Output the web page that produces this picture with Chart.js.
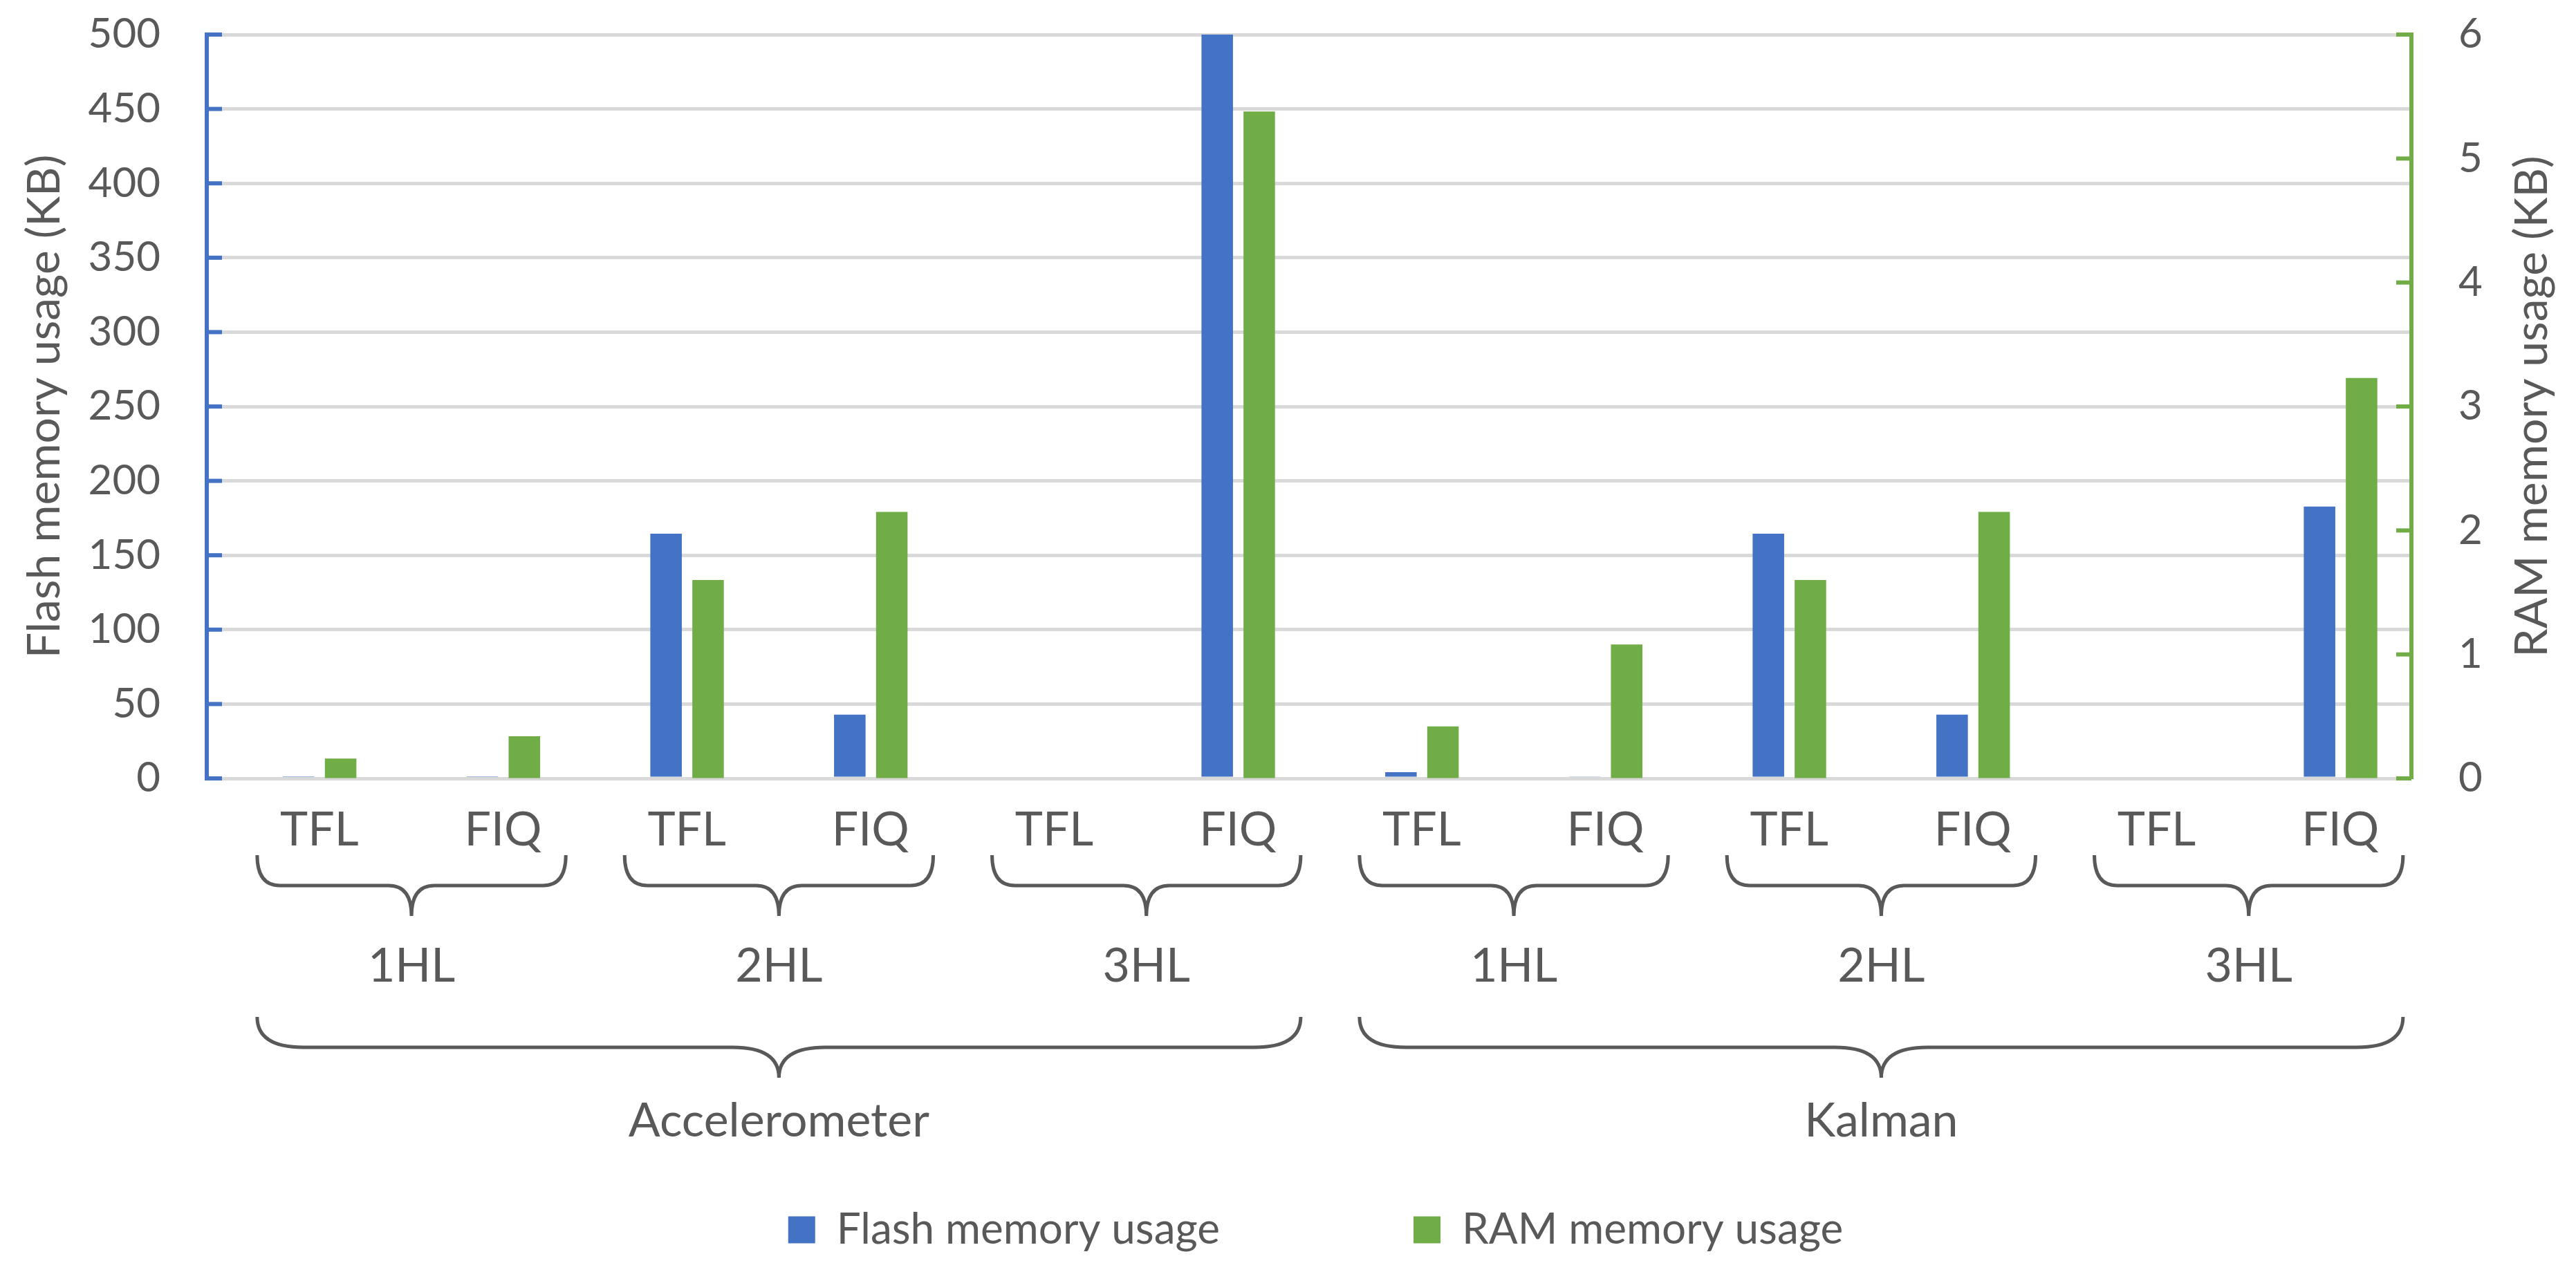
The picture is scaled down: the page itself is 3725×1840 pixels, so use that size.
<!DOCTYPE html>
<html>
<head>
<meta charset="utf-8">
<title>Flash and RAM memory usage</title>
<script src="https://cdn.jsdelivr.net/npm/chart.js@4.4.1/dist/chart.umd.min.js"></script>
<style>
  html, body { margin: 0; padding: 0; background: #fff; }
  #wrap { width: 3725px; height: 1840px; }
</style>
</head>
<body>
<div id="wrap"><canvas id="chart"></canvas></div>
<script>
// categories, three levels
const tickLabels = ['TFL', 'FIQ', 'TFL', 'FIQ', 'TFL', 'FIQ', 'TFL', 'FIQ', 'TFL', 'FIQ', 'TFL', 'FIQ'];
const layerLabels = ['1HL', '2HL', '3HL', '1HL', '2HL', '3HL'];
const filterLabels = ['Accelerometer', 'Kalman'];

// values (KB)
const flashKB = [1.4, 0.9, 164.5, 42.9, null, 500, 4.2, 1.3, 164.5, 42.9, null, 182.7];
const ramKB = [0.16, 0.34, 1.6, 2.15, null, 5.38, 0.42, 1.08, 1.6, 2.15, null, 3.23];
// empty slot so the blue bar sits on the category centre like in the excel chart
const spacer = [null, null, null, null, null, null, null, null, null, null, null, null];

const BLUE = '#4472C4';
const GREEN = '#70AD47';
const TEXT = '#595959';
const GRID = '#D9D9D9';
const FONT = 'Lato';

function brace(ctx, x0, x1, yTop, h, curl) {
    const xm = (x0 + x1) / 2;
    const yMid = yTop + h / 2;
    const yTip = yTop + h;
    ctx.beginPath();
    ctx.moveTo(x0, yTop);
    ctx.quadraticCurveTo(x0, yMid, x0 + curl, yMid);
    ctx.lineTo(xm - curl, yMid);
    ctx.quadraticCurveTo(xm, yMid, xm, yTip);
    ctx.moveTo(x1, yTop);
    ctx.quadraticCurveTo(x1, yMid, x1 - curl, yMid);
    ctx.lineTo(xm + curl, yMid);
    ctx.quadraticCurveTo(xm, yMid, xm, yTip);
    ctx.stroke();
}

const extras = {
    id: 'extras',
    afterDraw(chart) {
        const ctx = chart.ctx;
        const area = chart.chartArea;
        const x = chart.scales.x;
        const yL = chart.scales.yFlash;
        const yR = chart.scales.yRam;
        const flashMeta = chart.getDatasetMeta(1);
        const ramMeta = chart.getDatasetMeta(2);
        const catW = x.width / tickLabels.length;
        const pairX = i => (flashMeta.data[i].x + ramMeta.data[i].x) / 2;

        ctx.save();
        // tick marks pointing inside the plot
        ctx.lineWidth = 6;
        ctx.strokeStyle = BLUE;
        yL.ticks.forEach((t, i) => {
            const y = yL.getPixelForTick(i);
            ctx.beginPath(); ctx.moveTo(area.left, y); ctx.lineTo(area.left + 22, y); ctx.stroke();
        });
        ctx.strokeStyle = GREEN;
        yR.ticks.forEach((t, i) => {
            const y = yR.getPixelForTick(i);
            ctx.beginPath(); ctx.moveTo(area.right, y); ctx.lineTo(area.right - 22, y); ctx.stroke();
        });

        // axis titles, both read bottom to top
        const midY = (area.top + area.bottom) / 2;
        ctx.fillStyle = TEXT;
        ctx.font = '66px ' + FONT;
        ctx.textAlign = 'center';
        ctx.textBaseline = 'alphabetic';
        [[yL.left + 6, 'Flash memory usage (KB)'], [yR.right - 42, 'RAM memory usage (KB)']].forEach(([bx, txt]) => {
            ctx.save();
            ctx.translate(bx, midY);
            ctx.rotate(-Math.PI / 2);
            ctx.fillText(txt, 0, 0);
            ctx.restore();
        });

        // braces and the two outer label rows
        ctx.font = '68px ' + FONT;
        ctx.strokeStyle = TEXT;
        ctx.lineWidth = 5;
        const per = tickLabels.length / layerLabels.length;
        layerLabels.forEach((lab, g) => {
            const a = pairX(g * per) - 0.34 * catW;
            const b = pairX(g * per + per - 1) + 0.34 * catW;
            brace(ctx, a, b, x.top + 111, 88, 33);
            ctx.fillText(lab, (a + b) / 2, x.top + 294);
        });
        const perF = tickLabels.length / filterLabels.length;
        filterLabels.forEach((lab, g) => {
            const a = pairX(g * perF) - 0.34 * catW;
            const b = pairX(g * perF + perF - 1) + 0.34 * catW;
            brace(ctx, a, b, x.top + 345, 88, 67);
            ctx.fillText(lab, (a + b) / 2, x.top + 518);
        });
        ctx.restore();
    }
};

function draw() {
    Chart.defaults.font.family = FONT;
    Chart.defaults.color = TEXT;
    new Chart(document.getElementById('chart'), {
        type: 'bar',
        data: {
            labels: tickLabels,
            datasets: [{
                label: '',
                data: spacer,
                backgroundColor: 'rgba(0,0,0,0)',
                yAxisID: 'yFlash',
            }, {
                label: 'Flash memory usage',
                data: flashKB,
                backgroundColor: BLUE,
                yAxisID: 'yFlash',
            }, {
                label: 'RAM memory usage',
                data: ramKB,
                backgroundColor: GREEN,
                yAxisID: 'yRam',
            }]
        },
        options: {
            responsive: true,
            maintainAspectRatio: false,
            animation: false,
            devicePixelRatio: 1,
            categoryPercentage: 0.686,
            barPercentage: 0.75,
            layout: { padding: { left: 80, right: 0, top: 50, bottom: 20 } },
            plugins: {
                tooltip: { enabled: false },
                legend: {
                    position: 'bottom',
                    labels: {
                        filter: item => item.text !== '',
                        boxWidth: 39,
                        boxHeight: 39,
                        padding: 280,
                        color: TEXT,
                        font: { size: 62 }
                    }
                }
            },
            scales: {
                x: {
                    grid: { display: false },
                    border: { display: false },
                    ticks: { font: { size: 68 }, color: TEXT, padding: 26, labelOffset: 30, maxRotation: 0 },
                    afterFit: s => { s.height = 342; }
                },
                yFlash: {
                    position: 'left',
                    min: 0,
                    max: 500,
                    ticks: { stepSize: 50, font: { size: 60 }, color: TEXT, padding: 0 },
                    // outer tick marks hidden, they only push the labels away; inner ones are drawn by the plugin
                    grid: { color: GRID, lineWidth: 5, tickLength: 67, tickColor: 'rgba(0,0,0,0)' },
                    border: { color: BLUE, width: 6 },
                    afterFit: s => { s.width = 219; }
                },
                yRam: {
                    position: 'right',
                    min: 0,
                    max: 6,
                    ticks: { stepSize: 1, font: { size: 60 }, color: TEXT, padding: 0 },
                    grid: { drawOnChartArea: false, tickLength: 68, tickColor: 'rgba(0,0,0,0)' },
                    border: { color: GREEN, width: 6 },
                    afterFit: s => { s.width = 238; }
                }
            }
        },
        plugins: [extras]
    });
}

document.fonts.load('60px ' + FONT).then(draw, draw);
</script>
</body>
</html>
